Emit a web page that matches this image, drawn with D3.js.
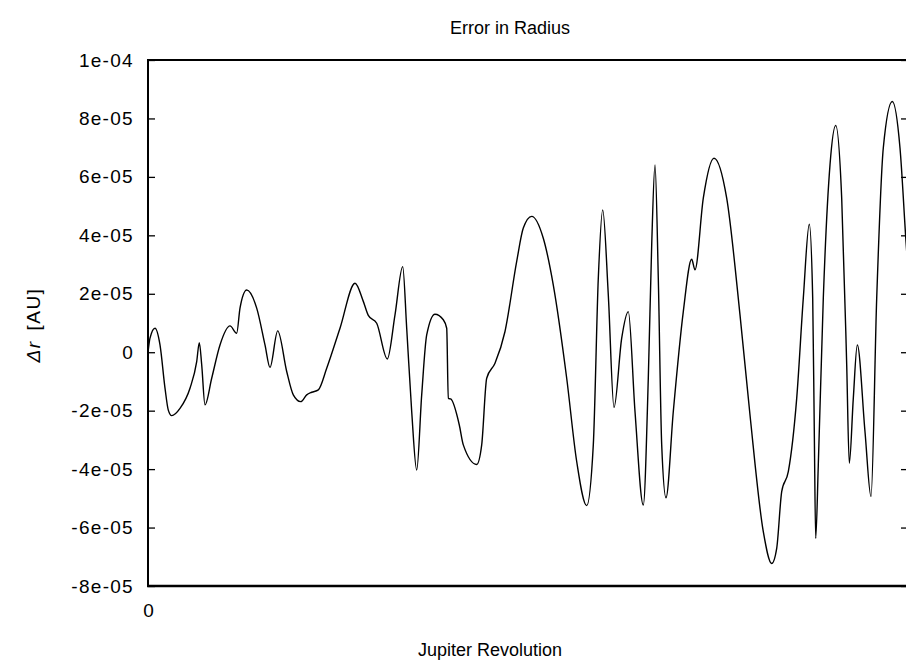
<!DOCTYPE html>
<html>
<head>
<meta charset="utf-8">
<script src="https://cdn.jsdelivr.net/npm/d3@7"></script>
<style>
  body { margin: 0; background: #fff; }
  text { font-family: "Liberation Sans", Arial, sans-serif; fill: #000; }
</style>
</head>
<body>
<svg id="chart" width="906" height="663"></svg>
<script>
// revolutions (x) and radius error in units of 1e-5 AU (y)
const revolution = [
  0, 0.2, 0.7, 1.2, 1.7, 2.03, 2.37, 3.2, 4.2, 4.87, 5.13, 5.37, 5.7, 6.37, 7.2, 8.2, 8.87, 9.2, 9.87,
  10.87, 11.7, 12.2, 12.97, 13.87, 14.53, 15.27, 15.87, 16.37, 17.03, 17.87, 19.2, 20.7, 21.53, 22.03,
  22.87, 23.93, 24.7, 25.47, 25.87, 26.37, 26.87, 27.37, 27.87, 28.7, 29.53, 29.87, 30.03, 30.27, 31.13,
  31.53, 32.87, 33.37, 33.87, 34.7, 35.7, 36.87, 37.53, 38.37, 39.53, 40.53, 41.87, 42.87, 43.87, 44.53,
  45.03, 45.47, 46.03, 46.6, 47.37, 48.03, 48.7, 49.53, 50.03, 50.37, 50.7, 51.03, 51.37, 51.8, 52.53,
  53.53, 54.37, 54.7, 55.53, 56.6, 57.87, 59.2, 60.2, 61.53, 62.37, 62.87, 63.37, 64.03, 64.87, 65.53,
  66.13, 66.47, 66.63, 66.77, 67.03, 67.53, 68.2, 68.77, 69.37, 69.87, 70.13, 70.53, 70.93, 71.7, 72.3,
  72.87, 73.53, 74.43, 75.2, 75.8, 76.2
];
const deltaR = [
  0, 0.48, 0.82, 0.25, -1.23, -1.98, -2.17, -1.92, -1.23, -0.32, 0.33, -0.43, -1.8, -0.89, 0.25, 0.9, 0.65, 1.51, 2.13,
  1.51, 0.25, -0.52, 0.73, -0.66, -1.46, -1.69, -1.46, -1.37, -1.29, -0.55, 0.82, 2.36, 1.74, 1.26,
  0.99, -0.23, 1.28, 2.93, 0.82, -2.03, -4.03, -1.46, 0.59, 1.3, 1.11, 0.82, -1.58, -1.6, -2.49,
  -3.17, -3.84, -3.17, -0.89, -0.38, 0.71, 3.11, 4.25, 4.65, 3.9, 2.3, -0.89, -3.74, -5.25, -3.17,
  2.53, 4.87, 1.96, -1.89, 0.48, 1.39, -2.03, -5.23, -0.89, 3.67, 6.41, 2.53, -3.17, -4.98, -2.03,
  1.39, 3.18, 2.82, 5.27, 6.64, 5.27, 1.28, -2.15, -6.14, -7.23, -6.71, -4.77, -4.09, -1.58, 1.85,
  4.38, 1.85, -2.72, -6.37, -3.86, 1.85, 6.41, 7.76, 5.27, -0.43, -3.8, -1.58, 0.25, -2.72, -4.94,
  1.85, 6.99, 8.58, 6.99, 3.79, 1.85
];
const yTickValues = [1e-4, 8e-5, 6e-5, 4e-5, 2e-5, 0, -2e-5, -4e-5, -6e-5, -8e-5];
const yTickLabels = ["1e-04", "8e-05", "6e-05", "4e-05", "2e-05", "0", "-2e-05", "-4e-05", "-6e-05", "-8e-05"];
const xTickValues = [0];
const xTickLabels = ["0"];

const plotLeft = 148, plotRight = 908, plotTop = 60, plotBottom = 586;

const svg = d3.select('#chart');

const x = d3.scaleLinear().domain([0, 76]).range([plotLeft, plotRight]);
const y = d3.scaleLinear().domain([-8e-5, 1e-4]).range([plotBottom, plotTop]);

const points = revolution.map((r, i) => ({ r, dr: deltaR[i] * 1e-5 }));

svg.append('defs').append('clipPath').attr('id', 'plot-clip')
  .append('rect').attr('x', plotLeft).attr('y', plotTop - 2)
  .attr('width', plotRight - plotLeft).attr('height', plotBottom - plotTop + 4);

// left axis, ticks pointing inward
const yAxis = svg.append('g')
  .attr('transform', `translate(${plotLeft},0)`)
  .call(d3.axisLeft(y).tickValues(yTickValues).tickFormat((d, i) => yTickLabels[i])
    .tickSizeInner(-7).tickSizeOuter(0).tickPadding(14));
yAxis.select('.domain').remove();
yAxis.selectAll('line').attr('stroke', '#000').attr('stroke-width', 1.3);
yAxis.selectAll('text').style('font-size', '19px').style('letter-spacing', '1.3px');

// right axis ticks (border itself is just off the picture)
const yAxisRight = svg.append('g')
  .attr('transform', `translate(${plotRight},0)`)
  .call(d3.axisRight(y).tickValues(yTickValues).tickFormat('').tickSizeInner(-7).tickSizeOuter(0));
yAxisRight.select('.domain').remove();
yAxisRight.selectAll('line').attr('stroke', '#000').attr('stroke-width', 1.3);

// bottom axis
const xAxis = svg.append('g')
  .attr('transform', `translate(0,${plotBottom})`)
  .call(d3.axisBottom(x).tickValues(xTickValues).tickFormat((d, i) => xTickLabels[i])
    .tickSize(0).tickPadding(18));
xAxis.select('.domain').remove();
xAxis.selectAll('text').style('font-size', '19px');

// frame
const frame = svg.append('g').attr('stroke', '#000').attr('fill', 'none');
frame.append('line').attr('x1', plotLeft).attr('x2', plotLeft).attr('y1', plotTop).attr('y2', plotBottom).attr('stroke-width', 2);
frame.append('line').attr('x1', plotLeft - 1).attr('x2', plotRight).attr('y1', plotTop).attr('y2', plotTop).attr('stroke-width', 2.2);
frame.append('line').attr('x1', plotLeft - 1).attr('x2', plotRight).attr('y1', plotBottom).attr('y2', plotBottom).attr('stroke-width', 2.4);

// the curve
const line = d3.line()
  .x(d => x(d.r))
  .y(d => y(d.dr))
  .curve(d3.curveMonotoneX);

svg.append('path')
  .datum(points)
  .attr('clip-path', 'url(#plot-clip)')
  .attr('fill', 'none')
  .attr('stroke', '#000')
  .attr('stroke-width', 1.4)
  .attr('d', line);

// titles
svg.append('text')
  .attr('x', 510).attr('y', 34)
  .attr('text-anchor', 'middle')
  .style('font-size', '18px')
  .text('Error in Radius');

svg.append('text')
  .attr('x', 490).attr('y', 656)
  .attr('text-anchor', 'middle')
  .style('font-size', '18px')
  .text('Jupiter Revolution');

const yLabel = svg.append('text')
  .attr('transform', 'translate(40,325) rotate(-90)')
  .attr('text-anchor', 'middle')
  .style('font-size', '19px')
  .style('letter-spacing', '1.5px')
  .style('word-spacing', '3px');
yLabel.append('tspan').style('font-style', 'italic').text('\u0394r');
yLabel.append('tspan').text(' [AU]');
</script>
</body>
</html>
